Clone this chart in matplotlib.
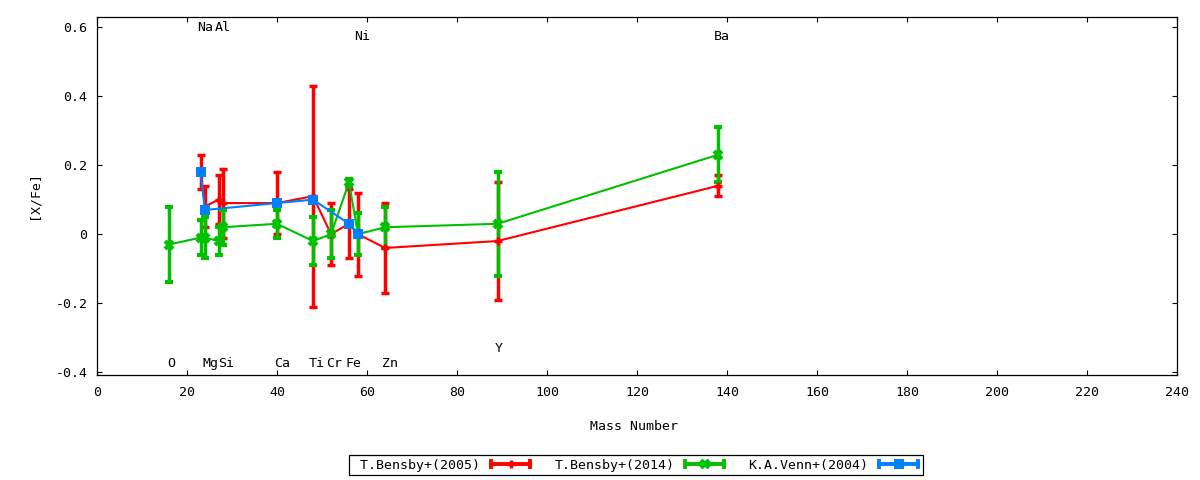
import matplotlib
matplotlib.use("Agg")
import matplotlib.pyplot as plt
from matplotlib.lines import Line2D
from matplotlib.legend_handler import HandlerBase
from matplotlib.container import ErrorbarContainer
from matplotlib.ticker import FuncFormatter

plt.rcParams.update({
    "font.family": "DejaVu Sans Mono",
    "font.size": 9.5,
    "axes.unicode_minus": False,
})

# T.Bensby+(2005): Na Mg Al Si Ca Ti Cr Fe Ni Zn Y Ba
b05_mass = [23, 24, 27, 28, 40, 48, 52, 56, 58, 64, 89, 138]
b05_val = [0.18, 0.08, 0.10, 0.09, 0.09, 0.11, 0.00, 0.03, 0.00, -0.04, -0.02, 0.14]
b05_err = [0.05, 0.06, 0.07, 0.10, 0.09, 0.32, 0.09, 0.10, 0.12, 0.13, 0.17, 0.03]

# T.Bensby+(2014): O Na Mg Al Si Ca Ti Cr Fe Ni Zn Y Ba
b14_mass = [16, 23, 24, 27, 28, 40, 48, 52, 56, 58, 64, 89, 138]
b14_val = [-0.03, -0.01, -0.01, -0.02, 0.02, 0.03, -0.02, 0.00, 0.15, 0.00, 0.02, 0.03, 0.23]
b14_err = [0.11, 0.05, 0.06, 0.04, 0.05, 0.04, 0.07, 0.07, 0.01, 0.06, 0.06, 0.15, 0.08]

# K.A.Venn+(2004): Na Mg Ca Ti Fe Ni
v04_mass = [23, 24, 40, 48, 56, 58]
v04_val = [0.18, 0.07, 0.09, 0.10, 0.03, 0.00]
v04_err = [0, 0, 0, 0, 0, 0]

# element labels (x, y in data units)
elem_names = ["O", "Mg", "Si", "Ca", "Ti", "Cr", "Fe", "Zn", "Na", "Al", "Ni", "Ba", "Y"]
elem_x = [16.4, 25.2, 28.8, 41.1, 48.9, 52.6, 56.9, 65.1, 24.0, 27.9, 58.9, 138.9, 89.3]
elem_y = [-0.375, -0.375, -0.375, -0.375, -0.375, -0.375, -0.375, -0.375,
          0.60, 0.60, 0.572, 0.572, -0.332]


class KeyHandler(HandlerBase):
    # gnuplot-like key sample: horizontal bar with end caps and a point in the middle
    def create_artists(self, legend, orig_handle, xdescent, ydescent,
                       width, height, fontsize, trans):
        dl = orig_handle.lines[0]
        c = dl.get_color()
        y = height / 2 - ydescent
        x0, x1 = -xdescent, width - xdescent
        line = Line2D([x0, x1], [y, y], color=c, lw=2.8, solid_capstyle="butt")
        caps = Line2D([x0 + 1, x1 - 1], [y, y], ls="none", marker="|", ms=7,
                      mew=2.8, color=c)
        mid = Line2D([(x0 + x1) / 2], [y], ls="none", marker=dl.get_marker(),
                     ms=dl.get_markersize(), mew=dl.get_markeredgewidth(), color=c)
        for a in (line, caps, mid):
            a.set_transform(trans)
        return [line, caps, mid]


fig = plt.figure(figsize=(12, 4.8), dpi=100)
ax = fig.add_axes([97 / 1200, 105 / 480, 1080 / 1200, 358 / 480])

common = dict(elinewidth=2.5, capsize=3.2, capthick=2.6, lw=1.5)
h1 = ax.errorbar(b05_mass, b05_val, yerr=b05_err, color="#ff0000", marker="+",
                 ms=6, mew=2.5, label=" T.Bensby+(2005)", **common)
h2 = ax.errorbar(b14_mass, b14_val, yerr=b14_err, color="#00c000", marker="x",
                 ms=6, mew=3, label="T.Bensby+(2014)", **common)
h3 = ax.errorbar(v04_mass, v04_val, yerr=v04_err, color="#0080ff", marker="s",
                 ms=7, mew=0, label="K.A.Venn+(2004)", **common)

for name, x, y in zip(elem_names, elem_x, elem_y):
    ax.text(x, y, name, ha="center", va="center")

ax.set_xlim(0, 240)
ax.set_ylim(-0.408, 0.629)
ax.set_xticks(range(0, 241, 20))
ax.set_yticks([-0.4, -0.2, 0, 0.2, 0.4, 0.6])
ax.yaxis.set_major_formatter(FuncFormatter(lambda v, p: "%g" % round(v, 3)))
ax.tick_params(direction="in", top=True, right=True, length=3.5, width=0.8)
ax.tick_params(axis="x", pad=8)
ax.tick_params(axis="y", pad=7)
for s in ax.spines.values():
    s.set_linewidth(0.9)

ax.set_xlabel("Mass Number")
ax.xaxis.set_label_coords(0.497, -0.125)
ax.set_ylabel("[X/Fe]")
ax.yaxis.set_label_coords(-0.0525, 0.503)

leg = ax.legend(handles=[h1, h2, h3], handler_map={ErrorbarContainer: KeyHandler()},
                loc="center", bbox_to_anchor=(636 / 1200, 15 / 480),
                bbox_transform=fig.transFigure, ncol=3, markerfirst=False,
                fancybox=False, framealpha=1, edgecolor="black",
                handlelength=3.2, handletextpad=0.7, columnspacing=1.7,
                borderpad=0.25)
leg.get_frame().set_linewidth(0.9)

fig.savefig("out.png", dpi=100)
